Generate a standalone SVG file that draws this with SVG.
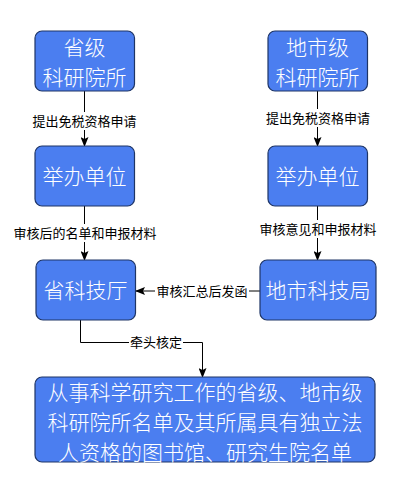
<svg xmlns="http://www.w3.org/2000/svg" width="402" height="489" viewBox="0 0 402 489">
<defs>
<style>
.box{fill:#4b7ef0;stroke:#1e3566;stroke-width:1.2}
.bt{fill:#ffffff;font-family:"Noto Sans CJK SC","Noto Sans",sans-serif;font-size:21px;font-weight:300;text-anchor:middle}
.ln{fill:none;stroke:#000;stroke-width:1}
.lb{fill:#000;font-family:"Noto Sans CJK SC","Noto Sans",sans-serif;font-size:13px;text-anchor:middle}
.bg{fill:#fff}
</style>
<marker id="ah" markerWidth="10" markerHeight="8" refX="9" refY="4" orient="auto" markerUnits="userSpaceOnUse">
<path d="M0,0 L10,4 L0,8 L2,4 Z" fill="#000"/>
</marker>
</defs>
<rect width="402" height="489" fill="#fff"/>
<g id="connectors">
<path class="ln" d="M84.5,91 V146" marker-end="url(#ah)"/>
<path class="ln" d="M317.5,91 V146" marker-end="url(#ah)"/>
<path class="ln" d="M84.5,206 V260" marker-end="url(#ah)"/>
<path class="ln" d="M317.5,206 V260" marker-end="url(#ah)"/>
<path class="ln" d="M260,291 H136" marker-end="url(#ah)"/>
<path class="ln" d="M80.5,320 V342.5 H202.5 V377" marker-end="url(#ah)"/>
<rect class="bg" x="31" y="112" width="108" height="18"/>
<text class="lb" x="84.5" y="125.5">提出免税资格申请</text>
<rect class="bg" x="264" y="109" width="108" height="18"/>
<text class="lb" x="318" y="122.5">提出免税资格申请</text>
<rect class="bg" x="13" y="224" width="144" height="18"/>
<text class="lb" x="85" y="237.5">审核后的名单和申报材料</text>
<rect class="bg" x="258" y="220" width="120" height="18"/>
<text class="lb" x="318" y="233.5">审核意见和申报材料</text>
<rect class="bg" x="155" y="282" width="94" height="18"/>
<text class="lb" x="202" y="295.5">审核汇总后发函</text>
<rect class="bg" x="129" y="333" width="54" height="18"/>
<text class="lb" x="156" y="346.5">牵头核定</text>
</g>
<g id="n1">
<rect class="box" x="35" y="31" width="99.5" height="60" rx="7"/>
<text class="bt" x="84.5" y="55">省级</text>
<text class="bt" x="84.5" y="84.5">科研院所</text>
</g>
<g id="n2">
<rect class="box" x="268" y="31" width="99.5" height="60" rx="7"/>
<text class="bt" x="317.5" y="55">地市级</text>
<text class="bt" x="317.5" y="84.5">科研院所</text>
</g>
<g id="n3">
<rect class="box" x="35" y="146" width="99.5" height="60" rx="7"/>
<text class="bt" x="84.5" y="183.5">举办单位</text>
</g>
<g id="n4">
<rect class="box" x="268" y="146" width="99.5" height="60" rx="7"/>
<text class="bt" x="317.5" y="183.5">举办单位</text>
</g>
<g id="n5">
<rect class="box" x="36" y="260" width="99.5" height="60" rx="7"/>
<text class="bt" x="85.5" y="297.5">省科技厅</text>
</g>
<g id="n6">
<rect class="box" x="260" y="260" width="116" height="60" rx="7"/>
<text class="bt" x="318" y="297.5">地市科技局</text>
</g>
<g id="n7">
<rect class="box" x="35" y="377" width="340" height="85" rx="7"/>
<text class="bt" x="205" y="399.5">从事科学研究工作的省级、地市级</text>
<text class="bt" x="205" y="430">科研院所名单及其所属具有独立法</text>
<text class="bt" x="205" y="459.5">人资格的图书馆、研究生院名单</text>
</g>
</svg>
